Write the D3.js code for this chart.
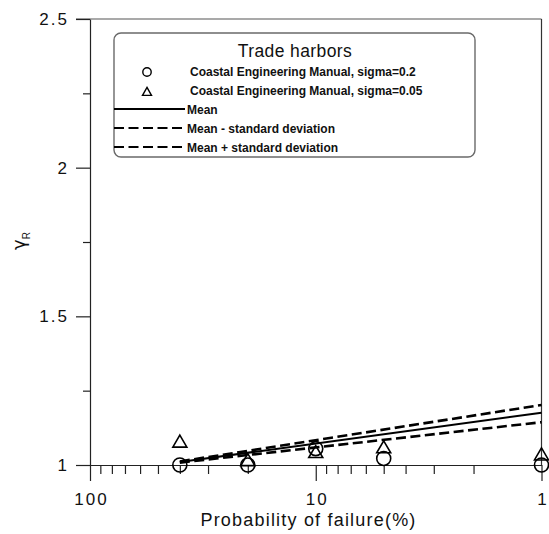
<!DOCTYPE html>
<html>
<head>
<meta charset="utf-8">
<script src="https://cdn.jsdelivr.net/npm/d3@7"></script>
<style>
  html, body { margin: 0; padding: 0; background: #fff; }
  svg { display: block; font-family: "Liberation Sans", Arial, sans-serif; }
</style>
</head>
<body>
<svg id="chart" width="549" height="534"></svg>
<script>
// Probability of failure (%) for each design case
const probabilities = [40, 20, 10, 5, 1];
// Partial safety factor gamma_R, Coastal Engineering Manual
const cemSigma02 = [1.0, 1.0, 1.055, 1.022, 1.0];
const cemSigma005 = [1.077, 1.015, 1.042, 1.058, 1.034];
// Regression lines (end points at 40 % and 1 %)
const lineProbs = [40, 1];
const meanLine = [1.010, 1.176];
const meanMinusSd = [1.008, 1.144];
const meanPlusSd = [1.012, 1.202];

const yMajorTicks = [1, 1.5, 2, 2.5];
const yMinorTicks = [1.25, 1.75, 2.25];
const xMajorTicks = [100, 10, 1];
const xMinorTicks = [90, 80, 70, 60, 50, 40, 30, 20, 9, 8, 7, 6, 5, 4, 3, 2];

const legendTitle = "Trade harbors";
const legendLabels = [
  "Coastal Engineering Manual, sigma=0.2",
  "Coastal Engineering Manual, sigma=0.05",
  "Mean",
  "Mean - standard deviation",
  "Mean + standard deviation"
];

const svg = d3.select("#chart");
const plotLeft = 90, plotRight = 541.5, plotTop = 19, plotBottom = 465;

const x = d3.scaleLog().domain([100, 1]).range([plotLeft, plotRight]);
const y = d3.scaleLinear().domain([1, 2.5]).range([plotBottom, plotTop]);

const axisColor = "#222";

// frame (top and right)
svg.append("line").attr("x1", plotLeft - 14).attr("x2", plotRight).attr("y1", plotTop).attr("y2", plotTop)
  .attr("stroke", "#555").attr("stroke-width", 1.2);
svg.append("line").attr("x1", plotRight).attr("x2", plotRight).attr("y1", plotTop).attr("y2", plotBottom)
  .attr("stroke", "#333").attr("stroke-width", 1.2);

// y axis
const gy = svg.append("g").attr("transform", `translate(${plotLeft},0)`)
  .call(d3.axisLeft(y).tickValues(yMajorTicks).tickSize(14).tickSizeOuter(0).tickPadding(7)
    .tickFormat(d3.format("~g")));
svg.append("g").attr("transform", `translate(${plotLeft},0)`)
  .call(d3.axisLeft(y).tickValues(yMinorTicks).tickSize(7).tickSizeOuter(0).tickFormat(""))
  .select(".domain").remove();

// x axis
const gx = svg.append("g").attr("transform", `translate(0,${plotBottom})`)
  .call(d3.axisBottom(x).tickValues(xMajorTicks).tickSize(16).tickSizeOuter(0).tickPadding(12)
    .tickFormat(d3.format("~g")));
svg.append("g").attr("transform", `translate(0,${plotBottom})`)
  .call(d3.axisBottom(x).tickValues(xMinorTicks).tickSize(9).tickSizeOuter(0).tickFormat(""))
  .select(".domain").remove();

svg.selectAll(".tick line, .domain").attr("stroke", axisColor).attr("stroke-width", 1.2);
svg.selectAll(".tick text").attr("font-size", 17).attr("fill", "#111")
  .attr("letter-spacing", 2)
  .attr("font-family", "'Liberation Sans', Arial, sans-serif");
// trailing letter-spacing offsets centred labels; pull them back
gx.selectAll(".tick text").attr("dx", 1);

// axis titles
svg.append("text").attr("x", 308.5).attr("y", 526).attr("text-anchor", "middle")
  .attr("font-size", 18).attr("letter-spacing", 1.2).attr("fill", "#111")
  .text("Probability of failure(%)");

const yl = svg.append("text")
  .attr("transform", "translate(25,241) rotate(-90)")
  .attr("text-anchor", "middle").attr("font-size", 18).attr("fill", "#111");
yl.append("tspan").attr("font-family", "'DejaVu Sans', sans-serif").text("γ");
yl.append("tspan").attr("font-size", 10).attr("dy", 5).text("R");

// regression lines
const line = d3.line().x(d => x(d[0])).y(d => y(d[1]));
const lineSeries = [
  { vals: meanMinusSd, dash: "10,4.5", w: 2.6 },
  { vals: meanPlusSd, dash: "10,4.5", w: 2.6 },
  { vals: meanLine, dash: null, w: 2 }
];
lineSeries.forEach(s => {
  svg.append("path")
    .datum(lineProbs.map((p, i) => [p, s.vals[i]]))
    .attr("d", line).attr("fill", "none").attr("stroke", "#000")
    .attr("stroke-width", s.w).attr("stroke-dasharray", s.dash);
});

// markers
const triPath = (cx, cy, w, h) =>
  `M${cx},${cy - h * 0.58}L${cx + w / 2},${cy + h * 0.42}L${cx - w / 2},${cy + h * 0.42}Z`;

svg.append("g").selectAll("circle").data(probabilities.map((p, i) => [p, cemSigma02[i]]))
  .join("circle").attr("cx", d => x(d[0])).attr("cy", d => y(d[1])).attr("r", 7)
  .attr("fill", "none").attr("stroke", "#000").attr("stroke-width", 1.6);

svg.append("g").selectAll("path").data(probabilities.map((p, i) => [p, cemSigma005[i]]))
  .join("path").attr("d", d => triPath(x(d[0]), y(d[1]), 14, 12))
  .attr("fill", "none").attr("stroke", "#000").attr("stroke-width", 1.6);

// legend
const lg = svg.append("g");
lg.append("rect").attr("x", 114).attr("y", 33).attr("width", 361).attr("height", 124)
  .attr("rx", 7).attr("fill", "#fff").attr("stroke", "#6a6a6a").attr("stroke-width", 1.4);
lg.append("text").attr("x", 295).attr("y", 57).attr("text-anchor", "middle")
  .attr("font-size", 17.5).attr("letter-spacing", 0.4).attr("fill", "#111").text(legendTitle);

const rowY = [71, 90, 109, 128, 147];
legendLabels.forEach((t, i) => {
  lg.append("text").attr("x", i < 2 ? 190 : 187).attr("y", rowY[i] + 4.5)
    .attr("font-size", 12).attr("font-weight", "bold").attr("fill", "#111").text(t);
});
lg.append("circle").attr("cx", 147).attr("cy", rowY[0] + 1).attr("r", 4.2)
  .attr("fill", "none").attr("stroke", "#000").attr("stroke-width", 1.4);
lg.append("path").attr("d", triPath(147, rowY[1] + 2, 9, 8))
  .attr("fill", "none").attr("stroke", "#000").attr("stroke-width", 1.4);
[null, "10,4.5", "10,4.5"].forEach((dash, i) => {
  lg.append("line").attr("x1", 114).attr("x2", 185)
    .attr("y1", rowY[i + 2]).attr("y2", rowY[i + 2])
    .attr("stroke", "#000").attr("stroke-width", 2.2).attr("stroke-dasharray", dash);
});
</script>
</body>
</html>
